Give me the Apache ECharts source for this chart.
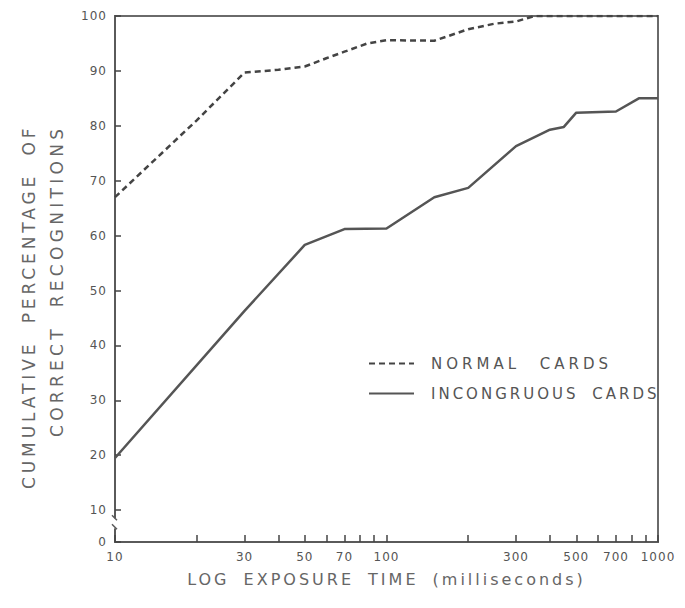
<!DOCTYPE html>
<html><head><meta charset="utf-8">
<script src="https://cdn.jsdelivr.net/npm/echarts@6/dist/echarts.min.js"></script>
<style>html,body{margin:0;padding:0;background:#fff}#chart{width:685px;height:608px}</style>
</head><body><div id="chart"></div>
<script>
// exposure times (ms) and cumulative % correct recognitions
const xNormal = [10, 20, 30, 40, 50, 60, 70, 85, 100, 150, 170, 200, 250, 300, 350, 1000];
const yNormal = [67, 81, 89.7, 90.2, 90.8, 92.3, 93.5, 95, 95.6, 95.5, 96.4, 97.6, 98.6, 99, 100, 100];
const xIncong = [10, 30, 50, 70, 100, 150, 200, 300, 400, 450, 500, 700, 850, 1000];
const yIncong = [19.5, 46.3, 58.3, 61.2, 61.3, 67, 68.7, 76.3, 79.3, 79.8, 82.4, 82.6, 85, 85];
const xTickLabels = [10, 30, 50, 70, 100, 300, 500, 700, 1000];
const xTickMarks = [10, 20, 30, 40, 50, 60, 70, 80, 90, 100, 200, 300, 400, 500, 600, 700, 800, 900, 1000];
const yTicks = [0, 10, 20, 30, 40, 50, 60, 70, 80, 90, 100];
const yBrokenFloor = 4.2; // value drawn at the bottom edge, labelled "0" (axis break)
const yBreakAt = 7.6;     // where the break mark sits on the y axis
const seriesNames = ['NORMAL CARDS', 'INCONGRUOUS CARDS'];

const pair = (xs, ys) => xs.map((x, i) => [x, ys[i]]);
const yTickVals = yTicks.map(v => v === 0 ? yBrokenFloor : v);
const FONT = '"DejaVu Sans", sans-serif';
const AX = '#5a5a5a';
const TK = '#444';

const names = [
  {type: 'text', x: 29, y: 489, rotation: Math.PI / 2,
   style: {text: 'CUMULATIVE PERCENTAGE OF', font: '17px ' + FONT, fill: '#666', align: 'left', verticalAlign: 'middle'}},
  {type: 'text', x: 57, y: 437, rotation: Math.PI / 2,
   style: {text: 'CORRECT RECOGNITIONS', font: '17px ' + FONT, fill: '#666', align: 'left', verticalAlign: 'middle'}}
];

const chart = echarts.init(document.getElementById('chart'), null, {renderer: 'svg'});
chart.setOption({
  animation: false,
  backgroundColor: '#fff',
  grid: {left: 115, right: 27, top: 16, bottom: 66, show: true, borderColor: '#6a6a6a', borderWidth: 2, backgroundColor: 'transparent'},
  xAxis: {
    type: 'log', logBase: 10, min: 10, max: 1000,
    name: 'LOG EXPOSURE TIME (milliseconds)', nameLocation: 'middle', nameGap: 29,
    nameTextStyle: {fontFamily: FONT, fontSize: 16, color: '#666'},
    axisLine: {show: true, lineStyle: {color: AX, width: 2}},
    axisTick: {show: true, inside: true, length: 7, customValues: xTickMarks, lineStyle: {color: TK, width: 1.5}},
    axisLabel: {customValues: xTickLabels, margin: 9, fontFamily: FONT, fontSize: 12, color: '#555',
      formatter: v => String(Math.round(v))},
    splitLine: {show: false}, minorTick: {show: false}
  },
  yAxis: {
    type: 'value', min: yBrokenFloor, max: 100,
    axisLine: {show: true, lineStyle: {color: AX, width: 2}},
    axisTick: {show: true, inside: true, length: 6, customValues: yTickVals, lineStyle: {color: TK, width: 1.5}},
    axisLabel: {customValues: yTickVals, margin: 8, fontFamily: FONT, fontSize: 12, color: '#555',
      formatter: v => v < 10 ? '0' : String(Math.round(v))},
    splitLine: {show: false}
  },
  legend: {
    orient: 'vertical', left: 368, top: 356, itemWidth: 45, itemHeight: 14, itemGap: 15, padding: 0,
    itemStyle: {opacity: 0},
    textStyle: {fontFamily: FONT, fontSize: 15, color: '#555', padding: [0, 0, 0, 12]},
    data: seriesNames
  },
  series: [
    {name: seriesNames[0], type: 'line', data: pair(xNormal, yNormal), symbol: 'none',
     lineStyle: {color: '#444', width: 2.5, type: [6, 4]}, itemStyle: {color: '#444'}},
    {name: seriesNames[1], type: 'line', data: pair(xIncong, yIncong), symbol: 'none',
     lineStyle: {color: '#555', width: 2.5}, itemStyle: {color: '#555'}}
  ],
  graphic: names
});

// axis-break mark on the y axis, placed through the axis scale
const bp = chart.convertToPixel({gridIndex: 0}, [10, yBreakAt]);
chart.setOption({graphic: names.concat([
  {type: 'rect', x: bp[0] - 4, y: bp[1] - 5, shape: {width: 8, height: 10}, style: {fill: '#fff'}, z: 100},
  {type: 'line', shape: {x1: bp[0] - 3, y1: bp[1] - 8, x2: bp[0] + 2, y2: bp[1] - 3}, style: {stroke: AX, lineWidth: 1.5}, z: 101},
  {type: 'line', shape: {x1: bp[0] - 3, y1: bp[1] + 1, x2: bp[0] + 2, y2: bp[1] + 6}, style: {stroke: AX, lineWidth: 1.5}, z: 101}
])});

function spaceText() {
  document.querySelectorAll('#chart text').forEach(t => {
    const s = t.textContent || '';
    if (/^[0-9]+$/.test(s)) { t.style.letterSpacing = '1px'; }
    else if (/^CUMULATIVE/.test(s)) { t.style.letterSpacing = '3.9px'; t.style.wordSpacing = '8px'; }
    else if (/^CORRECT/.test(s)) { t.style.letterSpacing = '4.3px'; t.style.wordSpacing = '8px'; }
    else if (/^NORMAL/.test(s)) { t.style.letterSpacing = '4px'; t.style.wordSpacing = '11px'; }
    else { t.style.letterSpacing = '3px'; t.style.wordSpacing = '6px'; }
  });
}
chart.on('finished', spaceText);
spaceText();
setTimeout(spaceText, 50);
</script></body></html>
